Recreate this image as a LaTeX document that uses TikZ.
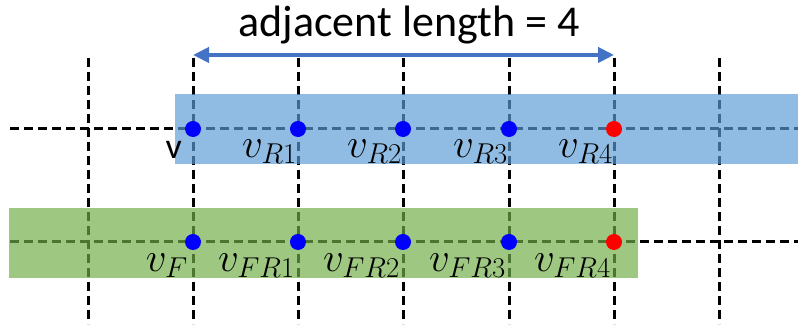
\RequirePackage{fix-cm}
\documentclass[tikz,border=0pt]{standalone}
\usepackage{fontspec}
\newfontfamily\calibri{Carlito}
\usetikzlibrary{arrows.meta}
\definecolor{bandblue}{HTML}{5B9BD5}
\definecolor{bandgreen}{HTML}{70AD47}
\definecolor{arrowblue}{HTML}{4472C4}

\begin{document}
\begin{tikzpicture}[x=1pt,y=1pt,
	grid/.style={black,line width=3pt,dash pattern=on 9pt off 5pt},
	band/.style={opacity=0.68},
	dot/.style={circle,fill=blue,inner sep=0pt,minimum size=16pt},
	enddot/.style={dot,fill=red},
	lbl/.style={anchor=north east,inner sep=0pt,font=\fontsize{41}{41}\selectfont},
	lenarrow/.style={arrowblue,line width=4pt,{Triangle[length=16pt,width=15pt]}-{Triangle[length=16pt,width=15pt]}}]
	\useasboundingbox (0,0) rectangle (798,328);
	% dashed grid
	\foreach \x in {88,193,298,403,509,614,719}
		\draw[grid] (\x,270) -- (\x,4);
	\draw[grid] (10,199) -- (798,199);
	\draw[grid] (10,86) -- (798,86);
	% the two bands
	\fill[bandblue,band] (175,164) rectangle (798,234);
	\fill[bandgreen,band] (9,50) rectangle (638,120);
	% vertices
	\foreach \i/\x in {0/193,1/298,2/403,3/509}{
		\node[dot] (r\i) at (\x,199) {};
		\node[dot] (f\i) at (\x,86) {};
	}
	\node[enddot] (r4) at (614,199) {};
	\node[enddot] (f4) at (614,86) {};
	% labels
	\node[lbl,font=\calibri\fontsize{36}{36}\selectfont] at ([xshift=-11pt,yshift=-4pt]r0.south) {v};
	\foreach \i in {1,...,4}
		\node[lbl] at ([xshift=-1pt,yshift=-2pt]r\i.south) {$v_{R\i}$};
	\node[lbl] at ([xshift=-5pt,yshift=-3pt]f0.south) {$v_F$};
	\foreach \i in {1,...,4}
		\node[lbl] at ([xshift=-3pt,yshift=-3pt]f\i.south) {$v_{FR\i}$};
	% length arrow
	\coordinate (al) at (193,273);
	\coordinate (ar) at (614,273);
	\draw[lenarrow] (al) -- (ar);
	\node[anchor=base,inner sep=0pt,font=\calibri\fontsize{44}{44}\selectfont] (ttl) at (409,291) {adjacent length = 4};
\end{tikzpicture}
\end{document}
